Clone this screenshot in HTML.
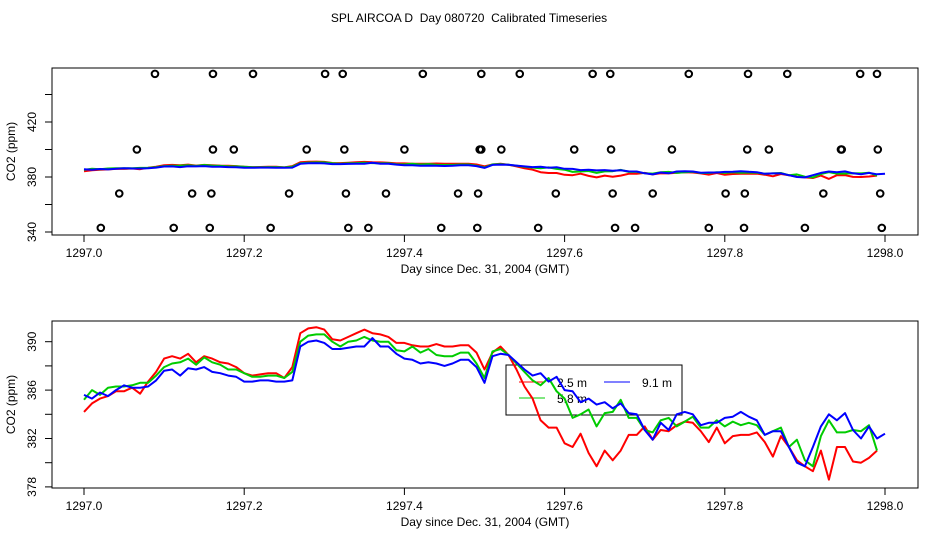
<!DOCTYPE html>
<html><head><meta charset="utf-8"><style>
body{margin:0;background:#fff;width:936px;height:540px;overflow:hidden}
svg{display:block;font-family:"Liberation Sans",sans-serif}
</style></head><body>
<svg id="chart" width="936" height="540" viewBox="0 0 936 540" xmlns="http://www.w3.org/2000/svg">
<text x="469" y="22" font-size="12" text-anchor="middle" style="white-space:pre">SPL AIRCOA D  Day 080720  Calibrated Timeseries</text>
<g id="topPanel"></g>
<g id="botPanel"></g>
</svg>
<script>
const red25 = [384.2,384.9,385.3,385.5,385.9,385.9,386.2,385.7,386.7,387.5,388.6,388.8,388.6,389.0,388.3,388.8,388.6,388.3,388.2,387.9,387.4,387.2,387.3,387.4,387.4,387.0,387.9,390.7,391.1,391.2,391.0,390.2,390.1,390.4,390.7,391.0,390.7,390.6,390.4,389.9,389.9,389.7,389.6,389.6,389.8,389.6,389.6,389.7,389.7,389.1,387.7,389.1,389.6,388.9,387.7,386.3,385.3,383.5,382.9,382.9,381.6,381.3,382.4,380.8,379.7,381.0,380.2,381.0,382.3,382.3,383.0,381.9,382.7,382.6,383.1,383.4,383.3,382.6,381.7,382.9,381.6,382.2,382.3,382.3,382.5,381.7,380.5,382.2,381.3,380.2,379.7,379.3,381.0,378.6,381.3,381.3,380.1,380.0,380.4,381.0];
const green58 = [385.2,386.0,385.6,386.2,386.3,386.3,386.4,386.6,386.6,387.2,387.9,388.2,388.3,388.6,388.1,388.7,388.3,388.1,387.7,387.7,387.4,387.1,387.1,387.2,387.2,387.0,387.5,390.0,390.5,390.6,390.6,390.0,389.6,390.0,390.1,390.4,390.1,390.0,390.0,389.3,389.2,389.6,389.1,389.4,388.9,388.8,388.8,389.1,389.1,388.2,387.0,389.2,389.4,388.9,388.2,387.5,386.8,386.4,387.0,385.9,385.3,383.7,384.0,384.4,383.0,384.1,384.2,385.2,383.7,383.7,382.7,382.5,383.5,383.7,383.0,383.4,383.8,382.9,382.9,383.5,383.0,383.4,383.1,383.3,383.1,382.3,382.6,382.9,381.3,381.9,380.2,379.7,382.2,383.5,382.5,382.5,382.7,382.6,383.1,381.0];
const blue91 = [385.6,385.3,385.8,385.5,386.0,386.4,386.2,386.2,386.3,386.8,387.6,387.7,387.2,387.8,387.7,387.9,387.5,387.4,387.2,387.1,386.7,386.7,386.8,386.8,386.7,386.7,386.8,389.6,390.0,390.1,389.9,389.4,389.4,389.5,389.6,389.6,390.3,389.6,389.6,389.0,388.6,388.5,388.2,388.3,388.2,388.0,388.2,388.5,388.5,387.9,386.6,388.8,389.0,388.9,388.3,387.7,387.2,387.4,386.7,387.1,386.0,385.9,385.0,385.3,384.8,385.0,384.5,384.9,384.1,384.0,382.7,381.9,383.3,382.7,384.0,384.2,384.0,383.1,383.3,383.3,383.7,383.8,384.2,383.8,383.5,382.3,382.6,382.6,381.3,380.0,379.7,381.3,383.0,384.0,383.5,384.1,382.7,382.0,383.0,382.0,382.4];
const dayStep = 0.01;
const circDays455 = [0.0886,0.161,0.211,0.301,0.323,0.423,0.496,0.544,0.635,0.657,0.755,0.829,0.878,0.969,0.990];
const circDays400 = [0.066,0.161,0.187,0.278,0.325,0.400,0.494,0.496,0.521,0.612,0.658,0.734,0.828,0.855,0.945,0.946,0.991];
const circDays368 = [0.044,0.135,0.159,0.256,0.327,0.377,0.467,0.492,0.589,0.660,0.710,0.801,0.825,0.923,0.994];
const circDays343 = [0.021,0.112,0.157,0.233,0.330,0.355,0.446,0.491,0.567,0.663,0.688,0.780,0.824,0.900,0.996];
const circLevels = [455,400,368,343];
const xTicks = [1297.0,1297.2,1297.4,1297.6,1297.8,1298.0];
const topYTicks = [340,360,380,400,420,440];
const topYLabels = [340,380,420];
const botYTicks = [378,380,382,384,386,388,390];
const botYLabels = [378,382,386,390];

const NS="http://www.w3.org/2000/svg";
function mk(parent,tag,attrs,name){const e=document.createElementNS(NS,tag);for(const k in attrs)e.setAttribute(k,attrs[k]);


parent.appendChild(e);return e;}
const xs = d => 84 + (d-1297)*801;

function panel(g, box, ys, yt, yl, circles){
  mk(g,'rect',{x:box.x0,y:box.y0,width:box.x1-box.x0,height:box.y1-box.y0,fill:'none',stroke:'#000','stroke-width':1},'plot-frame');
  xTicks.forEach(t=>{const x=xs(t);
    mk(g,'line',{x1:x,x2:x,y1:box.y1,y2:box.y1+7,stroke:'#000'},'x-tick');
    const tx=mk(g,'text',{x:x,y:box.y1+22,'font-size':12,'text-anchor':'middle'},'x-tick-label');tx.textContent=t.toFixed(1);});
  const ax=mk(g,'text',{x:485,y:box.y1+38,'font-size':12,'text-anchor':'middle'},'x-axis-title');ax.textContent='Day since Dec. 31, 2004 (GMT)';
  yt.forEach(v=>{const y=ys(v);mk(g,'line',{x1:box.x0-7,x2:box.x0,y1:y,y2:y,stroke:'#000'},'y-tick');});
  yl.forEach(v=>{const y=ys(v);const t=mk(g,'text',{x:0,y:0,'font-size':12,'text-anchor':'middle',transform:`translate(${box.x0-16},${y}) rotate(-90)`},'y-tick-label');t.textContent=v;});
  const yt2=mk(g,'text',{x:0,y:0,'font-size':12,'text-anchor':'middle',transform:`translate(15,${(box.y0+box.y1)/2}) rotate(-90)`},'y-axis-title');yt2.textContent='CO2 (ppm)';
  if(circles){circles.forEach((arr,k)=>arr.forEach(d=>{mk(g,'circle',{cx:xs(1297+d),cy:ys(circLevels[k]),r:3.3,fill:'none',stroke:'#000','stroke-width':2},'flag-point');}));}
  [[red25,'#f00','series-2-5m'],[green58,'#0c0','series-5-8m'],[blue91,'#00f','series-9-1m']].forEach(([s,c,n])=>{
    const pts=s.map((v,i)=>xs(1297+i*dayStep).toFixed(1)+','+ys(v).toFixed(1)).join(' ');
    mk(g,'polyline',{points:pts,fill:'none',stroke:c,'stroke-width':2,'stroke-linejoin':'round'},n);});
}
const topG=document.getElementById('topPanel'), botG=document.getElementById('botPanel');
panel(topG,{x0:52,x1:918,y0:68,y1:235},v=>232-(v-340)*1.375,topYTicks,topYLabels,[circDays455,circDays400,circDays368,circDays343]);
const lg=mk(botG,'g',{},'legend');
mk(lg,'rect',{x:506,y:365,width:176,height:50,fill:'none',stroke:'#000'},'legend-box');
[['2.5 m','#f00',519,382],['9.1 m','#00f',604,382],['5.8 m','#0c0',519,398]].forEach(([l,c,x,y])=>{
  mk(lg,'line',{x1:x,x2:x+26,y1:y,y2:y,stroke:c,'stroke-width':1},'legend-swatch');
  const t=mk(lg,'text',{x:x+38,y:y+5,'font-size':12},'legend-label');t.textContent=l;});
panel(botG,{x0:52,x1:918,y0:321,y1:488},v=>341.7-(v-390)*12.1,botYTicks,botYLabels,null);
</script>
</body></html>
